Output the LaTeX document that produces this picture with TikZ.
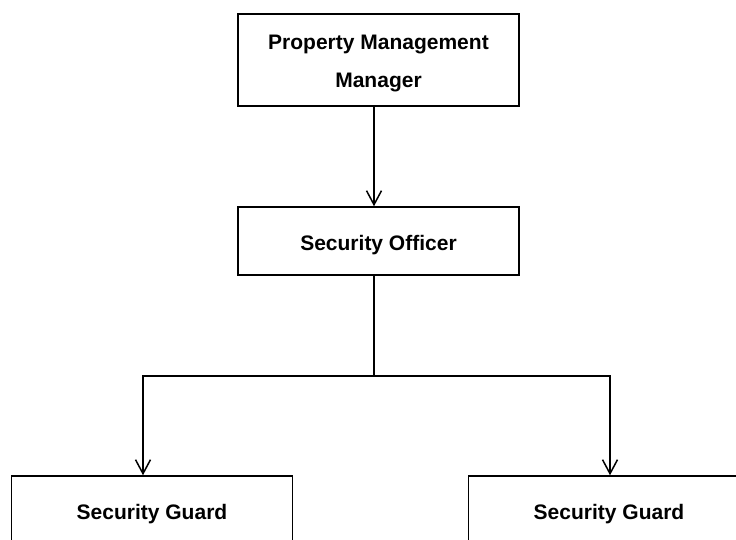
\documentclass[tikz,border=0pt]{standalone}
\usepackage{fontspec}
\setmainfont{Liberation Sans}
\usetikzlibrary{arrows.meta, positioning}

\begin{document}
\begin{tikzpicture}[
    x=1pt, y=-1pt,
    font=\fontsize{21}{38}\selectfont\bfseries,
    >={Straight Barb[length=14pt, width=15pt]},
    role/.style={rectangle, draw=black, line width=1.5pt, fill=white, align=center, minimum width=281pt, inner sep=0pt, text depth=0pt},
    link/.style={->, draw=black, line width=1.5pt},
    trunk/.style={draw=black, line width=1.5pt},
  ]
  \useasboundingbox (0,0) rectangle (736,540);
  % ------------------------------------------------------------------ management and officer
  \node[role, minimum height=92pt, text height=55pt] (pm) at (378.5,60) {Property Management\\Manager};
  \node[role, minimum height=68pt, text height=18pt] (so) at (378.5,241) {Security Officer};
  \draw[link] (pm.south -| 374,0) -- (so.north -| 374,0);
  % ------------------------------------------------------------------ guards under the officer
  \node[role, minimum height=68pt, text height=19pt] (gl) at (152,510) {Security Guard};
  \node[role, minimum height=68pt, text height=19pt] (gr) at (609,510) {Security Guard};
  \coordinate (split) at (374,376);
  \draw[trunk] (so.south -| split) -- (split);
  \draw[link] (split) -| ([xshift=-9pt]gl.north);
  \draw[link] (split) -| ([xshift=1pt]gr.north);
\end{tikzpicture}
\end{document}
